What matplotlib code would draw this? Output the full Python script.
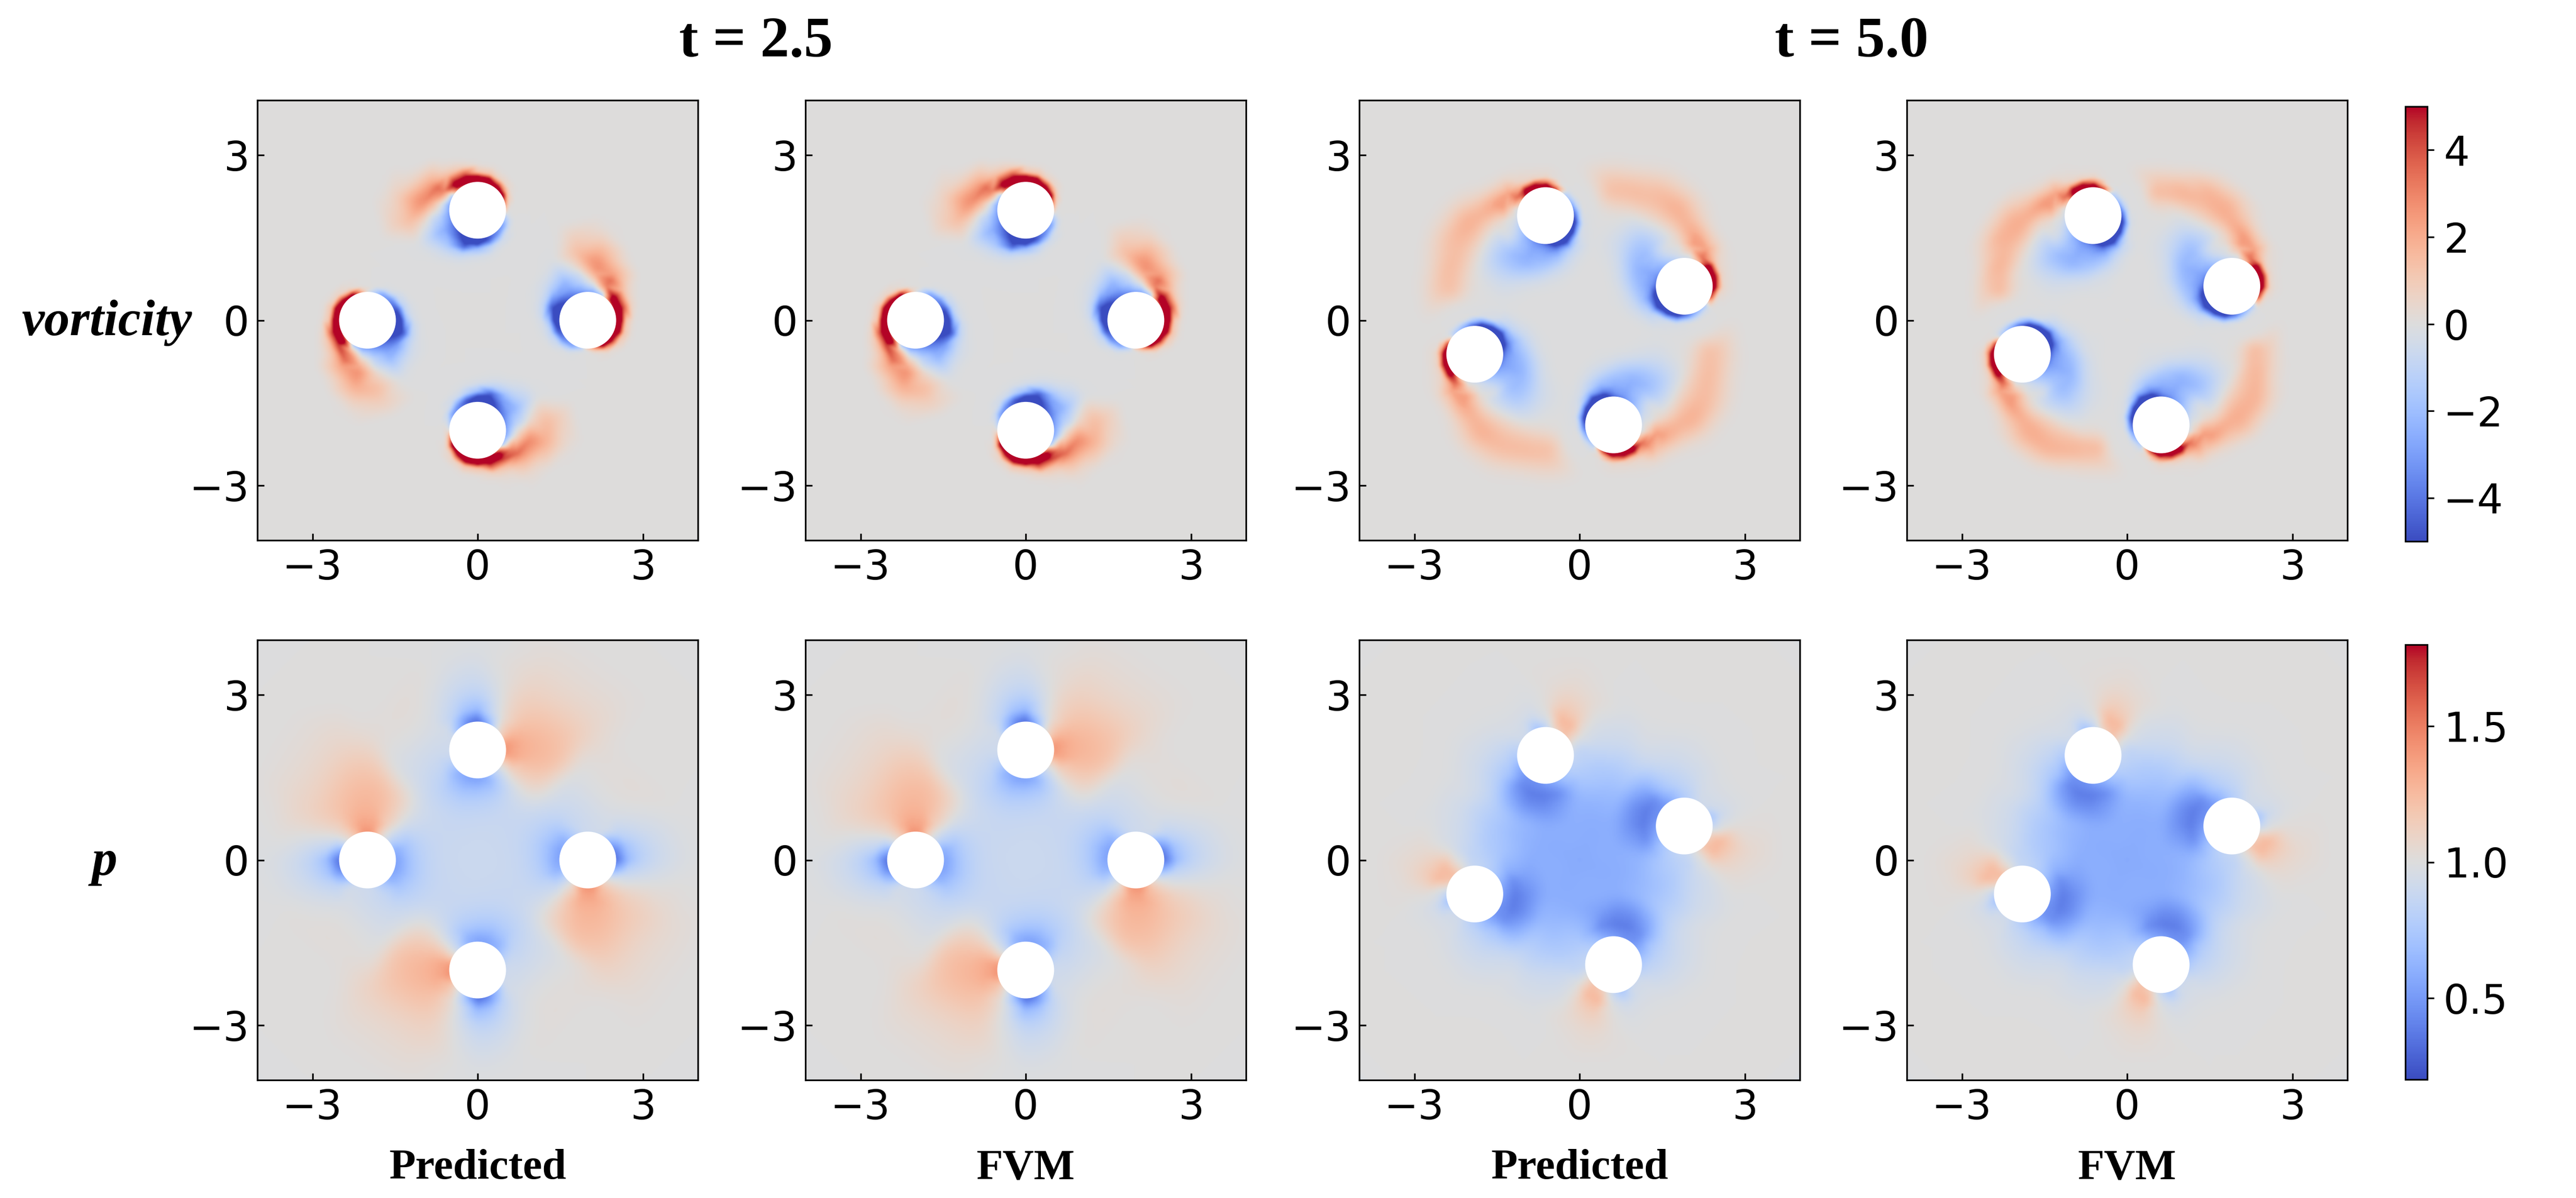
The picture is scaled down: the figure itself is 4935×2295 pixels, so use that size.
import numpy as np
import matplotlib
matplotlib.use("Agg")
import matplotlib.pyplot as plt
import matplotlib.tri as mtri
from matplotlib.cm import ScalarMappable
from matplotlib.colors import Normalize
from matplotlib.patches import Circle

W, H = 4935, 2295
DPI = 100
PX = 72 / DPI  # points per pixel

# ── Values ───────────────────────────────────────────────────────────────────
# Every field has 4 fold symmetry, so one cylinder's neighbourhood is tabulated.
# NEAR tables: rows = angle round the cylinder (0 = pointing away from the origin, ccw),
#              columns = distance from cylinder centre.
# FAR tables:  rows = angle about the origin relative to the cylinder,
#              columns = distance from the origin.
CYL_DIST = 2.0
CYL_RADIUS = 0.516
CYL_ANGLE = {2.5: 90.0, 5.0: 108.0}
NEAR_ANGLES = [0, 20, 40, 60, 80, 100, 120, 140, 160, 180, 200, 220, 240, 260, 280, 300, 320, 340]
FAR_ANGLES = [-40, -30, -20, -10, 0, 10, 20, 30, 40]

VORT_25_RADII = [0.5, 0.56, 0.62, 0.7, 0.85, 1.0, 1.25, 1.5, 1.75]
VORT_25_NEAR = [
    [6, 6, 5.5, 1.2, 0, 0, 0, 0, 0],
    [6, 6, 6, 4, 0.4, 0, 0, 0, 0],
    [2, 6, 6, 4.5, 1.2, 0.3, 0, 0, 0],
    [-2, -0.5, 1.5, 3, 3.8, 2, 0.5, 0, 0],
    [-3, -2, -0.8, 0.4, 2, 3.2, 2, 0.8, 0.1],
    [-3.5, -2.5, -2, -1.2, -0.5, 0.6, 1.5, 0.9, 0.25],
    [-4, -3.5, -3, -2.5, -2, -1.2, -0.1, 0, 0],
    [-5, -4.5, -4, -3, -1.5, -0.4, 0, 0, 0],
    [-6, -6, -5.5, -4.5, -0.8, -0.1, 0, 0, 0],
    [-6, -6, -5, -2, -0.2, 0, 0, 0, 0],
    [-4.5, -5, -3.5, -1, -0.1, 0, 0, 0, 0],
    [-3.5, -3.5, -2, -0.5, 0, 0, 0, 0, 0],
    [-3, -2.5, -0.8, -0.1, 0, 0, 0, 0, 0],
    [-1.2, -0.4, 0, 0, 0, 0, 0, 0, 0],
    [2.5, 0.8, 0.1, 0, 0, 0, 0, 0, 0],
    [6, 5, 1.2, 0.2, 0, 0, 0, 0, 0],
    [6, 6, 3.5, 0.6, 0, 0, 0, 0, 0],
    [6, 6, 5.5, 1.2, 0.05, 0, 0, 0, 0],
]
QUIET_R = [0.2, 3.0, 3.4, 3.8, 4.4, 5.7]
VORT_25_FAR = [[0, 0, 0, 0, 0, 0] for _ in FAR_ANGLES]

VORT_50_RADII = [0.5, 0.56, 0.62, 0.7, 0.8, 1.0]
VORT_50_NEAR = [
    [6, 6, 4.5, 0.8, 0.1, 0],
    [6, 6, 5, 1.5, 0.3, 0.1],
    [1, 2.5, 3.5, 3, 2.2, 0.5],
    [-0.3, 0, 0.8, 1.5, 2.5, 2.8],
    [-0.8, -0.3, -0.1, 0, 0.3, 0.5],
    [-1.5, -1.2, -0.8, -0.5, -0.3, -1],
    [-2.5, -2.2, -2, -1.8, -1.8, -2.2],
    [-3.5, -3, -2.8, -2.6, -2.5, -2.3],
    [-4.5, -3.5, -3, -2.6, -2.2, -1.4],
    [-6, -5.5, -4, -2.8, -1.8, -0.5],
    [-6, -6, -5, -2.5, -0.8, 0],
    [-6, -6, -3.5, -0.8, -0.1, 0],
    [-6, -5, -2.5, -0.3, 0, 0],
    [-4.5, -3, -1, 0, 0, 0],
    [-2.5, -1.5, -0.4, 0, 0, 0],
    [-1.5, -0.8, -0.2, 0, 0, 0],
    [5, 3, 0.5, 0.1, 0, 0],
    [6, 6, 3, 0.6, 0.1, 0],
]
VORT_50_R = [0.4, 0.8, 1.0, 1.2, 1.4, 1.6, 1.8, 2.0, 2.2, 2.4, 2.6, 2.8, 3.0, 3.2, 3.4, 3.8, 4.4, 5.7]
VORT_50_FAR = [
    [0, 0, 0, -0.1, -0.2, -0.3, -0.1, 0, 0.4, 1.4, 1.7, 0.8, 0.2, 0, 0, 0, 0, 0],
    [0, 0, 0, 0, 0, 0, 0, 0.1, 0.7, 1.7, 1.3, 0.5, 0.1, 0, 0, 0, 0, 0],
    [0, 0, 0, 0, 0, 0, 0, 0, 0.3, 0.9, 0.6, 0.15, 0, 0, 0, 0, 0, 0],
    [0, 0, 0, 0, 0, 0, 0, 0, 0, 0.2, 0.2, 0.1, 0, 0, 0, 0, 0, 0],
    [0, 0, 0, 0, 0, 0, 0, 0, 0, 0, 0, 0, 0, 0, 0, 0, 0, 0],
    [0, -0.1, -0.2, 0, 0, 0, 0, 0, 0, 0, 0, 0, 0, 0, 0, 0, 0, 0],
    [0, -0.05, -0.2, -0.8, 0, 0, 0, 0, 0, 0, 0, 1.0, 0.1, 0, 0, 0, 0, 0],
    [0, 0, -0.2, -0.8, -1.5, -2, -2, -1, -0.2, 1.0, 2.0, 2.0, 0.8, 0.15, 0, 0, 0, 0],
    [0, 0, 0, -0.2, -0.6, -1, -1, -0.7, 0.2, 1.1, 1.6, 1.5, 0.7, 0.15, 0, 0, 0, 0],
]
VORT_50_FAR_FVM = [
    [0, 0, 0, -0.1, -0.2, -0.2, -0.1, 0, 0.2, 1.6, 1.8, 0.7, 0.1, 0, 0, 0, 0, 0],
    [0, 0, 0, 0, 0, 0, 0, 0, 0.8, 1.8, 1.1, 0.3, 0, 0, 0, 0, 0, 0],
    [0, 0, 0, 0, 0, 0, 0, 0, 0.3, 1.0, 0.5, 0.1, 0, 0, 0, 0, 0, 0],
    [0, 0, 0, 0, 0, 0, 0, 0, 0, 0.3, 0.2, 0, 0, 0, 0, 0, 0, 0],
    [0, 0, 0, 0, 0, 0, 0, 0, 0, 0, 0, 0, 0, 0, 0, 0, 0, 0],
    [0, -0.2, -0.2, 0, 0, 0, 0, 0, 0, 0, 0, 0, 0, 0, 0, 0, 0, 0],
    [0, -0.1, -0.3, -0.7, 0, 0, 0, 0, 0, 0, 0, 1.1, 0.15, 0, 0, 0, 0, 0],
    [0, -0.1, -0.3, -0.8, -1.5, -1.9, -1.9, -0.9, -0.3, 1.1, 2.1, 1.9, 0.9, 0.05, 0, 0, 0, 0],
    [0, 0, -0.1, -0.3, -0.6, -0.9, -1, -0.6, 0.1, 1.2, 1.8, 1.8, 0.7, 0.05, 0, 0, 0, 0],
]

P_RADII = [0.5, 0.6, 0.75, 1.0, 1.3, 1.7]
P_25_NEAR = [
    [0.3, 0.42, 0.67, 0.8, 0.9, 0.96],
    [0.38, 0.5, 0.72, 0.85, 0.92, 0.98],
    [0.62, 0.72, 0.85, 0.93, 0.98, 1.02],
    [0.92, 0.93, 0.95, 0.98, 1.02, 1.03],
    [0.92, 0.92, 0.93, 0.96, 1.0, 1.02],
    [0.9, 0.9, 0.9, 0.92, 0.95, 0.98],
    [0.78, 0.8, 0.85, 0.88, 0.93, 0.97],
    [0.6, 0.63, 0.72, 0.82, 0.88, 0.92],
    [0.53, 0.58, 0.68, 0.8, 0.87, 0.9],
    [0.52, 0.58, 0.7, 0.83, 0.88, 0.9],
    [0.6, 0.63, 0.72, 0.83, 0.88, 0.9],
    [0.85, 0.85, 0.87, 0.9, 0.92, 0.92],
    [1.05, 1.08, 1.12, 1.15, 1.12, 1.05],
    [1.42, 1.36, 1.32, 1.28, 1.25, 1.17],
    [1.45, 1.38, 1.33, 1.28, 1.25, 1.18],
    [1.15, 1.2, 1.22, 1.22, 1.18, 1.1],
    [0.95, 1.0, 1.05, 1.12, 1.12, 1.08],
    [0.55, 0.72, 0.88, 0.95, 1.0, 1.03],
]
P_25_FAR = [
    [0.9, 1.12, 1.07, 1.03, 1.0, 1.0],
    [0.9, 1.12, 1.07, 1.03, 1.0, 1.0],
    [0.9, 1.1, 1.06, 1.04, 1.0, 1.0],
    [0.9, 1.0, 1.0, 1.0, 1.0, 1.0],
    [0.9, 1.0, 0.98, 0.98, 1.0, 1.0],
    [0.9, 1.0, 1.0, 0.99, 1.0, 1.0],
    [0.9, 1.0, 1.0, 1.0, 1.0, 1.0],
    [0.9, 1.0, 1.0, 1.0, 1.0, 1.0],
    [0.9, 1.03, 1.0, 1.0, 1.0, 1.0],
]
P_50_NEAR = [
    [0.68, 0.8, 0.92, 0.97, 0.99, 1.0],
    [0.9, 0.93, 0.95, 0.98, 1.0, 1.0],
    [0.92, 0.93, 0.95, 0.97, 0.99, 1.0],
    [0.82, 0.84, 0.88, 0.92, 0.96, 0.99],
    [0.72, 0.76, 0.82, 0.87, 0.93, 0.98],
    [0.58, 0.62, 0.72, 0.8, 0.9, 0.96],
    [0.48, 0.46, 0.46, 0.58, 0.78, 0.9],
    [0.46, 0.44, 0.38, 0.46, 0.66, 0.78],
    [0.52, 0.45, 0.38, 0.46, 0.6, 0.65],
    [0.6, 0.52, 0.44, 0.54, 0.6, 0.6],
    [0.72, 0.68, 0.62, 0.64, 0.6, 0.58],
    [0.8, 0.78, 0.75, 0.72, 0.66, 0.56],
    [0.85, 0.83, 0.8, 0.76, 0.76, 0.82],
    [0.88, 0.86, 0.85, 0.88, 0.9, 0.93],
    [1.05, 1.02, 0.99, 0.95, 0.96, 0.98],
    [1.25, 1.24, 1.24, 1.1, 1.04, 1.0],
    [1.1, 1.22, 1.25, 1.14, 1.06, 1.02],
    [0.85, 0.93, 1.0, 1.02, 1.02, 1.01],
]
P_50_FAR = [[0.58, 1.0, 1.0, 1.0, 1.0, 1.0] for _ in FAR_ANGLES]

TICKS = [-3, 0, 3]
VORT_CBAR_TICKS = [-4, -2, 0, 2, 4]
P_CBAR_TICKS = [0.5, 1.0, 1.5]
VORT_RANGE = (-5, 5)
P_RANGE = (0.2, 1.8)
TIME_TITLES = ["t = 2.5", "t = 5.0"]
ROW_LABELS = ["vorticity", "p"]
COL_LABELS = ["Predicted", "FVM", "Predicted", "FVM"]

# layout in picture pixels
COL_LEFT = [493, 1543, 2604, 3653]
ROW_TOP = [192, 1226]
AX_W, AX_H = 844, 843
CBAR_TOP = [204, 1235]
CBAR_LEFT, CBAR_W, CBAR_H = 4608, 42, 833
FONT_SERIF = "Liberation Serif"
LW = 3.2 * PX
STEP = 0.02  # raster step for the drawn field
GX = np.arange(-4.6, 4.6 + STEP / 2, STEP)


def build_field(near, radii, far, far_r, t):
    # put the tabulated values at their positions round all four cylinders
    xs, ys, zs = [], [], []
    centres = [CYL_DIST * np.array([np.cos(np.radians(CYL_ANGLE[t] + 90 * k)),
                                    np.sin(np.radians(CYL_ANGLE[t] + 90 * k))]) for k in range(4)]
    for k in range(4):
        phi = CYL_ANGLE[t] + 90 * k
        c = centres[k]
        out = c / CYL_DIST
        for i, alpha in enumerate(NEAR_ANGLES):
            beta = np.radians(phi + alpha)
            for j, r in enumerate(radii):
                p = c + r * np.array([np.cos(beta), np.sin(beta)])
                # only keep the points in this cylinder's own 90 degree wedge
                if p @ out < np.linalg.norm(p) * np.cos(np.radians(45)) - 1e-9:
                    continue
                xs.append(p[0]); ys.append(p[1]); zs.append(near[i][j])
        for i, dphi in enumerate(FAR_ANGLES):
            ang = np.radians(phi + dphi)
            for j, R in enumerate(far_r):
                p = R * np.array([np.cos(ang), np.sin(ang)])
                if min(np.linalg.norm(p - q) for q in centres) < radii[-1] + 0.08:
                    continue
                xs.append(p[0]); ys.append(p[1]); zs.append(far[i][j])
    return np.array(xs), np.array(ys), np.array(zs, dtype=float), centres


def blur(a, sigma):
    # plain separable smoothing so the triangle facets don't show
    half = int(3 * sigma / STEP)
    k = np.exp(-0.5 * (np.arange(-half, half + 1) * STEP / sigma) ** 2)
    k /= k.sum()
    pad = np.pad(a, half, mode="edge")
    pad = np.apply_along_axis(np.convolve, 0, pad, k, mode="same")
    pad = np.apply_along_axis(np.convolve, 1, pad, k, mode="same")
    return pad[half:-half, half:-half]


def draw_panel(ax, near, radii, far, far_r, t, vrange, sig_near, sig_far):
    xs, ys, zs, centres = build_field(near, radii, far, far_r, t)
    tri = mtri.Triangulation(xs, ys)
    X, Y = np.meshgrid(GX, GX)
    field = np.ma.filled(mtri.LinearTriInterpolator(tri, zs)(X, Y), np.median(zs))
    d = np.min([np.hypot(X - c[0], Y - c[1]) for c in centres], axis=0)
    w = np.clip((d - 0.72) / 0.3, 0, 1)
    field = (1 - w) * blur(field, sig_near) + w * blur(field, sig_far)
    ax.imshow(field, origin="lower", extent=[GX[0], GX[-1], GX[0], GX[-1]], cmap="coolwarm",
              vmin=vrange[0], vmax=vrange[1], interpolation="bilinear", aspect="auto")
    for c in centres:
        ax.add_patch(Circle(c, CYL_RADIUS, fc="white", ec="none", zorder=3))
    ax.set_xlim(-4, 4)
    ax.set_ylim(-4, 4)
    ax.set_xticks(TICKS)
    ax.set_yticks(TICKS)
    ax.tick_params(direction="in", length=13 * PX, width=LW, labelsize=78 * PX, pad=15 * PX)
    for s in ax.spines.values():
        s.set_linewidth(LW)


def px_axes(fig, left, top, w, h):
    return fig.add_axes([left / W, 1 - (top + h) / H, w / W, h / H])


fig = plt.figure(figsize=(W / DPI, H / DPI), dpi=DPI, facecolor="white")

panels = [
    [(VORT_25_NEAR, VORT_25_RADII, VORT_25_FAR, QUIET_R, 2.5, VORT_RANGE, 0.025, 0.08),
     (VORT_25_NEAR, VORT_25_RADII, VORT_25_FAR, QUIET_R, 2.5, VORT_RANGE, 0.025, 0.08),
     (VORT_50_NEAR, VORT_50_RADII, VORT_50_FAR, VORT_50_R, 5.0, VORT_RANGE, 0.025, 0.12),
     (VORT_50_NEAR, VORT_50_RADII, VORT_50_FAR_FVM, VORT_50_R, 5.0, VORT_RANGE, 0.025, 0.09)],
    [(P_25_NEAR, P_RADII, P_25_FAR, QUIET_R, 2.5, P_RANGE, 0.05, 0.16),
     (P_25_NEAR, P_RADII, P_25_FAR, QUIET_R, 2.5, P_RANGE, 0.05, 0.16),
     (P_50_NEAR, P_RADII, P_50_FAR, QUIET_R, 5.0, P_RANGE, 0.05, 0.11),
     (P_50_NEAR, P_RADII, P_50_FAR, QUIET_R, 5.0, P_RANGE, 0.05, 0.11)],
]
for r, row in enumerate(panels):
    for c, args in enumerate(row):
        draw_panel(px_axes(fig, COL_LEFT[c], ROW_TOP[r], AX_W, AX_H), *args)

for r, (vrange, ticks) in enumerate([(VORT_RANGE, VORT_CBAR_TICKS), (P_RANGE, P_CBAR_TICKS)]):
    cax = px_axes(fig, CBAR_LEFT, CBAR_TOP[r], CBAR_W, CBAR_H)
    cb = fig.colorbar(ScalarMappable(Normalize(*vrange), "coolwarm"), cax=cax, ticks=ticks)
    cb.outline.set_linewidth(LW)
    cax.tick_params(length=13 * PX, width=LW, labelsize=78 * PX, pad=18 * PX)

def px_text(x, y, s, size, **kw):
    fig.text(x / W, 1 - y / H, s, fontsize=size * PX, family=FONT_SERIF, weight="bold",
             ha="center", va="baseline", **kw)

px_text(1448, 108, TIME_TITLES[0], 111)
px_text(3547, 108, TIME_TITLES[1], 111)
px_text(204, 642, ROW_LABELS[0], 98, style="italic")
px_text(200, 1676, ROW_LABELS[1], 98, style="italic")
for c, label in enumerate(COL_LABELS):
    px_text(COL_LEFT[c] + AX_W / 2, 2258, label, 83)

fig.savefig("out.png", dpi=DPI, facecolor="white")
